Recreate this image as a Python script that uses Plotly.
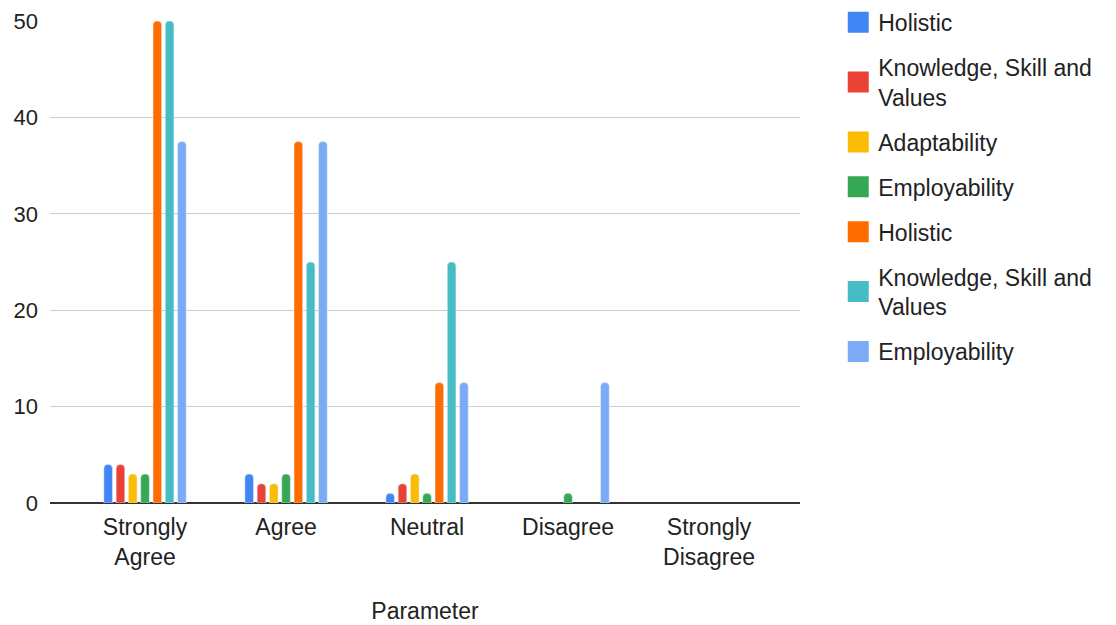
import plotly.graph_objects as go

categories = ["Strongly<br>Agree", "Agree", "Neutral", "Disagree", "Strongly<br>Disagree"]
series_names = [
    "Holistic",
    "Knowledge, Skill and<br>Values",
    "Adaptability",
    "Employability",
    "Holistic",
    "Knowledge, Skill and<br>Values",
    "Employability",
]
holistic_1 = [4, 3, 1, 0, 0]
ksv_1 = [4, 2, 2, 0, 0]
adaptability_1 = [3, 2, 3, 0, 0]
employability_1 = [3, 3, 1, 1, 0]
holistic_2 = [50, 37.5, 12.5, 0, 0]
ksv_2 = [50, 25, 25, 0, 0]
employability_2 = [37.5, 37.5, 12.5, 12.5, 0]
y_ticks = [0, 10, 20, 30, 40, 50]

series_values = [holistic_1, ksv_1, adaptability_1, employability_1,
                 holistic_2, ksv_2, employability_2]
colors = ["#4285F4", "#EA4335", "#FBBC04", "#34A853", "#FF6D01", "#46BDC6", "#7BAAF7"]

FONT = "Liberation Sans, Arial, sans-serif"

fig = go.Figure()
for name, vals, col in zip(series_names, series_values, colors):
    # zero values are drawn as no bar (avoid rounded stubs at the baseline)
    plot_vals = [v if v != 0 else None for v in vals]
    fig.add_trace(go.Bar(x=categories, y=plot_vals, name=name, marker_color=col,
                         showlegend=False))
for i, (name, col) in enumerate(zip(series_names, colors)):
    fig.add_trace(go.Scatter(x=[None], y=[None], mode="markers", name=name,
                             legendgroup=f"g{i}",
                             marker=dict(symbol="square", size=16, color=col,
                                         line=dict(color=col, width=5))))

# page body has an 8px default margin, so margins are compensated by 8px
fig.update_layout(
    width=1116, height=625,
    margin=dict(l=42, r=324, t=13, b=130, autoexpand=False),
    paper_bgcolor="white", plot_bgcolor="white",
    font=dict(family=FONT, size=22, color="#222222"),
    barmode="group", bargap=0.39, bargroupgap=0.3, barcornerradius=4,
    legend=dict(x=1.051, y=1.042, xanchor="left", yanchor="top",
                font=dict(size=23, color="#222222"), maxheight=620,
                tracegroupgap=12, traceorder="grouped", itemclick=False),
    xaxis=dict(title=dict(text="Parameter", font=dict(size=23), standoff=33),
               range=[-0.674, 4.645], showgrid=False, showline=False,
               ticks="", tickfont=dict(size=23), ticklabelstandoff=8),
    yaxis=dict(range=[0, 50], tickvals=y_ticks, showgrid=True,
               gridcolor="#CCCCCC", gridwidth=1, zeroline=True,
               zerolinecolor="#333333", zerolinewidth=1.5,
               ticks="", tickfont=dict(size=22), ticklabelstandoff=11),
)

fig.write_html("out.html")
